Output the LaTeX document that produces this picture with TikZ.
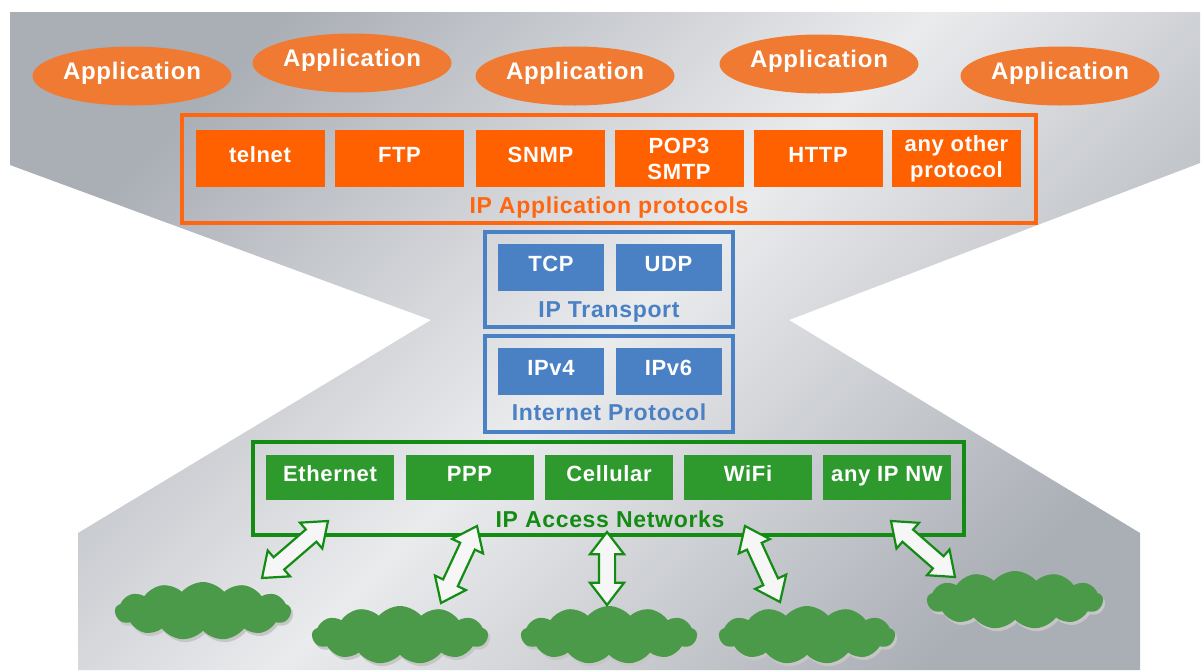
\documentclass[tikz,border=0pt]{standalone}
\usepackage{fontspec}
\setmainfont{Liberation Sans}[LetterSpace=3]
\usetikzlibrary{shapes.geometric, shapes.symbols, shapes.arrows, calc, positioning}

\definecolor{bgdark}{RGB}{170,174,181}
\definecolor{bglight}{RGB}{234,235,237}
\definecolor{apporange}{RGB}{240,122,50}
\definecolor{protoorange}{RGB}{255,96,0}
\definecolor{frameorange}{RGB}{255,102,16}
\definecolor{stackblue}{RGB}{74,128,196}
\definecolor{netgreen}{RGB}{46,154,46}
\definecolor{framegreen}{RGB}{18,140,18}
\definecolor{cloudgreen}{RGB}{74,154,74}

\tikzset{
  capcentre/.style={text height=0.72em, text depth=0pt},
  appnode/.style={ellipse, fill=apporange, minimum width=199pt, minimum height=59pt,
    inner sep=0pt, text=white, font=\fontsize{24}{28}\selectfont\bfseries, capcentre},
  protobox/.style={fill=protoorange, minimum width=129pt, minimum height=57pt, inner sep=0pt,
    text=white, align=center, font=\fontsize{22}{26}\selectfont\bfseries},
  stackbox/.style={fill=stackblue, minimum width=106pt, minimum height=47pt, inner sep=0pt,
    text=white, font=\fontsize{22}{26}\selectfont\bfseries, capcentre},
  netbox/.style={fill=netgreen, minimum width=128pt, minimum height=45pt, inner sep=0pt,
    text=white, font=\fontsize{22}{26}\selectfont\bfseries, capcentre},
  layerlabel/.style={anchor=base, inner sep=0pt, font=\fontsize{23}{27}\selectfont\bfseries},
  netcloud/.style={cloud, cloud puffs=13, cloud puff arc=100, aspect=3, fill=cloudgreen,
    minimum width=176pt, minimum height=58pt, inner sep=0pt},
  cloudshadow/.style={netcloud, fill=gray!45},
  duplexarrow/.style={double arrow, draw=framegreen, line width=2.2pt, fill=white!93!gray,
    inner xsep=0pt, inner ysep=7pt, double arrow head extend=9pt, double arrow tip angle=75}
}

\newcommand{\duplex}[2]{%
  \path let \p1=($(#2)-(#1)$), \n1={atan2(\y1,\x1)}, \n2={veclen(\x1,\y1)} in
    node[duplexarrow, rotate=\n1, minimum height=\n2] at ($(#1)!0.5!(#2)$) {};}

\begin{document}
\begin{tikzpicture}[x=1pt, y=-1pt]
  \useasboundingbox (0,0) rectangle (1203,670);

  % Background funnel
  \shade[top color=bgdark, bottom color=bgdark, middle color=bglight, shading angle=45]
    (10,12) -- (1200,12) -- (1200,163) -- (789,320) -- (1140,533) -- (1140,670)
    -- (78,670) -- (78,533) -- (431,320) -- (10,165) -- cycle;

  % Applications
  \node[appnode] (app1) at (132,76) {Application};
  \node[appnode] (app2) at (352,63) {Application};
  \node[appnode] (app3) at (575,76) {Application};
  \node[appnode] (app4) at (819,64) {Application};
  \node[appnode] (app5) at (1060,76) {Application};

  % IP application protocols
  \draw[draw=frameorange, line width=4pt] (182,115) rectangle (1036,223);
  \node[protobox, capcentre] (telnet) at (260,158.5) {telnet};
  \node[protobox, capcentre] (ftp) at (399.5,158.5) {FTP};
  \node[protobox, capcentre] (snmp) at (540.5,158.5) {SNMP};
  \node[protobox] (pop) at (679,158.5) {POP3\\SMTP};
  \node[protobox, capcentre] (http) at (818,158.5) {HTTP};
  \node[protobox] (other) at (956.5,158.5) {any other\\protocol};
  \node[layerlabel, text=frameorange] (applabel) at (609,213) {IP Application protocols};

  % IP transport
  \draw[draw=stackblue, line width=3.5pt] (485,232) rectangle (733,327);
  \node[stackbox] (tcp) at (551,267.5) {TCP};
  \node[stackbox] (udp) at (668.5,267.5) {UDP};
  \node[layerlabel, text=stackblue] (translabel) at (609,317) {IP Transport};

  % Internet protocol
  \draw[draw=stackblue, line width=3.5pt] (485,336) rectangle (733,432);
  \node[stackbox] (ipv4) at (551,371.5) {IPv4};
  \node[stackbox] (ipv6) at (668.5,371.5) {IPv6};
  \node[layerlabel, text=stackblue] (iplabel) at (609,420) {Internet Protocol};

  % IP access networks
  \draw[draw=framegreen, line width=4pt] (253,442) rectangle (964,535);
  \node[netbox] (ethernet) at (330,477.5) {Ethernet};
  \node[netbox] (ppp) at (469.5,477.5) {PPP};
  \node[netbox] (cellular) at (609,477.5) {Cellular};
  \node[netbox] (wifi) at (748,477.5) {WiFi};
  \node[netbox] (anynw) at (887,477.5) {any IP NW};
  \node[layerlabel, text=framegreen] (netlabel) at (610,527) {IP Access Networks};

  % Networks
  \node[cloudshadow] at (205,614) {};
  \node[cloudshadow] at (402,638) {};
  \node[cloudshadow] at (611,638) {};
  \node[cloudshadow] at (809,638) {};
  \node[cloudshadow] at (1017,603) {};
  \node[netcloud] (cloud1) at (203,611) {};
  \node[netcloud] (cloud2) at (400,635) {};
  \node[netcloud] (cloud3) at (609,635) {};
  \node[netcloud] (cloud4) at (807,635) {};
  \node[netcloud] (cloud5) at (1015,600) {};

  % Links
  \coordinate (link1) at (328,521); \coordinate (end1) at (262,578);
  \coordinate (link2) at (477,526); \coordinate (end2) at (441,603);
  \coordinate (link3) at (607,532); \coordinate (end3) at (607,605);
  \coordinate (link4) at (745,526); \coordinate (end4) at (780,602);
  \coordinate (link5) at (891,521); \coordinate (end5) at (955,577);
  \duplex{link1}{end1}
  \duplex{link2}{end2}
  \duplex{link3}{end3}
  \duplex{link4}{end4}
  \duplex{link5}{end5}
\end{tikzpicture}
\end{document}
